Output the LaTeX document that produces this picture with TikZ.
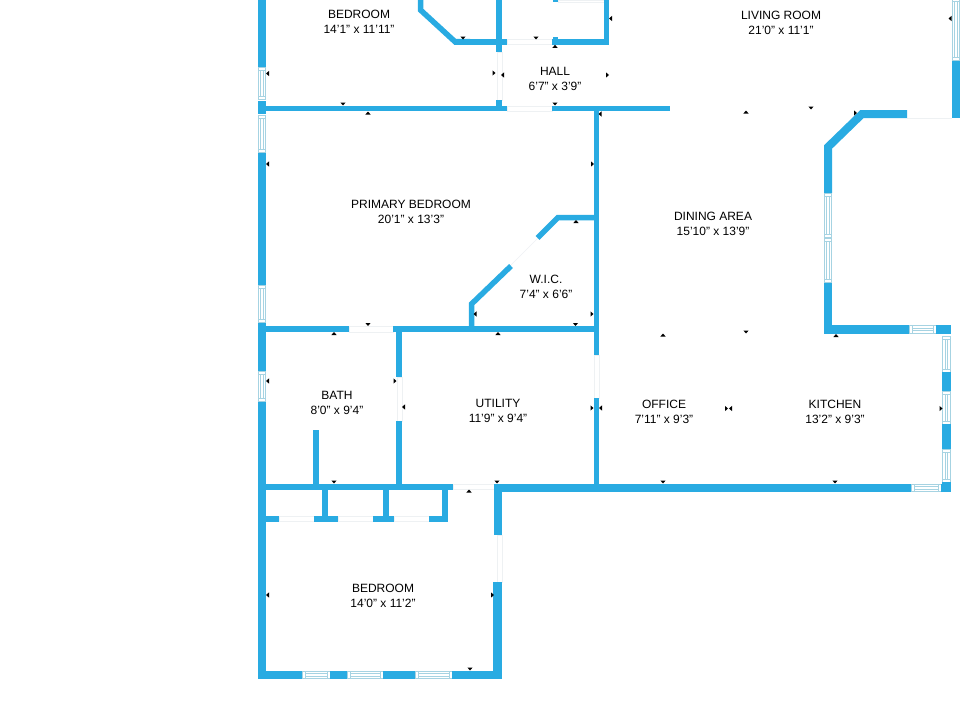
\documentclass[tikz,border=0pt]{standalone}
\usepackage{fontspec}
\setmainfont{Liberation Sans}
\definecolor{wallc}{HTML}{29ABE2}
\definecolor{winc}{HTML}{A6D3E2}
\definecolor{gapc}{HTML}{EEF1F3}
\tikzset{
  wallfill/.style={fill=wallc,draw=none},
  wallline/.style={draw=wallc,line cap=butt,line join=miter},
  gapline/.style={draw=gapc,line width=0.6pt},
  winbox/.style={draw=winc,line width=1pt,fill=white},
  winline/.style={draw=winc,line width=0.9pt},
  roomlabel/.style={align=center,font=\fontsize{12}{15}\selectfont,text=black,inner sep=0pt},
  tick/.style={fill=black,draw=none}
}
% wall rectangle
\newcommand{\wl}[4]{\fill[wallfill] (#1,#2) rectangle (#3,#4);}
% door/opening outline
\newcommand{\gp}[4]{\draw[gapline] (#1,#2) rectangle (#3,#4);}
% vertical window x1 y1 x2 y2
\newcommand{\vw}[4]{%
  \draw[winbox] (#1,#2) rectangle (#3,#4);
  \pgfmathsetmacro{\xa}{(#1+#3)/2-1.1}\pgfmathsetmacro{\xb}{(#1+#3)/2+1.1}%
  \draw[winline] (\xa,#2+3) -- (\xa,#4-3) (\xb,#2+3) -- (\xb,#4-3);
  \draw[winline] (#1,#2+3) -- (#3,#2+3) (#1,#4-3) -- (#3,#4-3);}
% horizontal window
\newcommand{\hw}[4]{%
  \draw[winbox] (#1,#2) rectangle (#3,#4);
  \pgfmathsetmacro{\ya}{(#2+#4)/2-1.1}\pgfmathsetmacro{\yb}{(#2+#4)/2+1.1}%
  \draw[winline] (#1+3,\ya) -- (#3-3,\ya) (#1+3,\yb) -- (#3-3,\yb);
  \draw[winline] (#1+3,#2) -- (#1+3,#4) (#3-3,#2) -- (#3-3,#4);}
% small direction marks
\newcommand{\tkd}[2]{\fill[tick] (#1-2.6,#2-1.5) -- (#1+2.6,#2-1.5) -- (#1,#2+1.5) -- cycle;}
\newcommand{\tku}[2]{\fill[tick] (#1-2.6,#2+1.5) -- (#1+2.6,#2+1.5) -- (#1,#2-1.5) -- cycle;}
\newcommand{\tkl}[2]{\fill[tick] (#1+1.5,#2-2.6) -- (#1+1.5,#2+2.6) -- (#1-1.5,#2) -- cycle;}
\newcommand{\tkr}[2]{\fill[tick] (#1-1.5,#2-2.6) -- (#1-1.5,#2+2.6) -- (#1+1.5,#2) -- cycle;}
\begin{document}
\begin{tikzpicture}[x=1pt,y=-1pt]
\useasboundingbox (0,0) rectangle (960,720);
\fill[white] (0,0) rectangle (960,720);

% faint openings
\gp{507}{39.5}{552}{44}
\gp{507}{106}{552}{111}
\gp{497}{52}{502}{100}
\gp{558}{0.3}{604}{2}
\gp{349}{326}{393}{332}
\gp{397}{377}{402}{421}
\gp{594}{355}{599}{398}
\gp{453}{484}{494}{489}
\gp{497}{535}{502}{582}
\gp{279}{516}{314}{521}
\gp{338}{516}{373}{521}
\gp{394}{516}{429}{521}
\draw[gapline] (907,118) -- (952,118);
\draw[gapline] (511,265) -- (538,238);

% outer left wall
\wl{258}{0}{266}{67}
\wl{258}{101}{266}{114}
\wl{258}{153}{266}{285}
\wl{258}{323}{266}{371}
\wl{258}{402}{266}{679}
\vw{258.5}{67}{265.5}{99}
\vw{258.5}{115}{265.5}{152}
\vw{258.5}{285}{265.5}{322}
\vw{258.5}{371}{265.5}{401}

% top rooms
\wl{266}{105.5}{507}{111}
\wl{552}{105.5}{670}{111}
\wl{496}{0}{502}{52}
\wl{496}{100}{502}{106}
\wl{454}{39}{507}{44.5}
\wl{552}{39}{609}{44.5}
\wl{553}{37}{558}{44}
\wl{553}{0}{558}{2}
\wl{604}{0}{609}{44.5}
\draw[wallline,line width=5.5pt] (420.5,0) -- (420.5,10) -- (455,41.7) -- (470,41.7);

% central vertical
\wl{593.5}{111}{599}{355}
\wl{593.5}{398}{599}{486}

% living / dining bay
\draw[wallline,line width=8pt] (907,114) -- (862,114) -- (828,147) -- (828,193);
\wl{824}{282}{832}{333}
\vw{824.5}{193}{831.5}{237}
\vw{824.5}{238}{831.5}{282}
\wl{952}{60}{960}{118}
\vw{952.5}{-2}{959.5}{60}

% kitchen
\wl{824}{325}{909}{334}
\hw{909}{325.5}{936}{333.5}
\wl{936}{325}{951}{334}
\vw{942.5}{336}{950.5}{372}
\wl{942}{372}{951}{391}
\vw{942.5}{391}{950.5}{424}
\wl{942}{424}{951}{449}
\vw{942.5}{449}{950.5}{482}
\wl{942}{482}{951}{492}
\wl{494}{484}{911}{492}
\hw{911}{484.5}{941}{491.5}
\wl{941}{484}{951}{492}

% primary / WIC
\wl{266}{326}{349}{332}
\wl{393}{326}{599}{332}
\wl{396}{332}{402}{377}
\wl{396}{421}{402}{486}
\draw[wallline,line width=5.5pt] (471.5,330) -- (471.5,304) -- (511,266);
\draw[wallline,line width=5.5pt] (537.5,238) -- (558,217.5) -- (594,217.5);

% bath / closets
\wl{266}{484}{453}{489.5}
\wl{313}{430}{319}{484}
\wl{322}{489}{327.5}{516}
\wl{383}{489}{388.5}{516}
\wl{442}{489}{448}{521}
\wl{266}{516}{279}{521.5}
\wl{314}{516}{338}{521.5}
\wl{373}{516}{394}{521.5}
\wl{429}{516}{448}{521.5}
\wl{494}{484}{502}{535}

% lower bedroom
\wl{493}{582}{502}{679}
\wl{258}{671}{302}{679}
\hw{302}{671.5}{330}{678.5}
\wl{330}{671}{347}{679}
\hw{347}{671.5}{383}{678.5}
\wl{383}{671}{415}{679}
\hw{415}{671.5}{452}{678.5}
\wl{452}{671}{502}{679}

% marks
\tkl{267.5}{73.5} \tkd{343}{104} \tku{368}{113}
\tkd{463}{38} \tkd{536}{38} \tku{555}{46.3}
\tkl{610.5}{18.5} \tkr{494}{73} \tkl{502.5}{75} \tkr{607.5}{75}
\tkd{555}{104} \tkl{600}{114}
\tkd{811}{108} \tku{746}{112} \tkr{855.5}{113} \tkl{950}{18.5}
\tkl{267.5}{164} \tkr{592.5}{164}
\tku{576}{221.5} \tkl{475}{314} \tkr{592}{314} \tkd{575.5}{324.5} \tku{498}{333.5}
\tkd{368}{324.5} \tku{334}{333.5} \tkl{267.5}{381} \tkr{395}{381} \tkl{403.5}{407}
\tkr{592}{408} \tkl{600.5}{408}
\tku{663}{335} \tkd{746}{332} \tku{836}{335.5}
\tkr{726.5}{408.5} \tkl{730.5}{408.5} \tkr{941}{408.5}
\tkd{334}{482} \tku{469}{491} \tkd{497}{482} \tkd{663}{482} \tkd{835}{482}
\tkl{267.5}{595} \tkr{492.5}{595} \tkd{470}{669}

% labels
\node[roomlabel] (r1) at (359,21.5) {BEDROOM\\14'1" x 11'11"};
\node[roomlabel] (r2) at (781,22.5) {LIVING ROOM\\21'0" x 11'1"};
\node[roomlabel] (r3) at (555,78.5) {HALL\\6'7" x 3'9"};
\node[roomlabel] (r4) at (411,211.5) {PRIMARY BEDROOM\\20'1" x 13'3"};
\node[roomlabel] (r5) at (713,224) {DINING AREA\\15'10" x 13'9"};
\node[roomlabel] (r6) at (546,286.5) {W.I.C.\\7'4" x 6'6"};
\node[roomlabel] (r7) at (337,403) {BATH\\8'0" x 9'4"};
\node[roomlabel] (r8) at (498,411) {UTILITY\\11'9" x 9'4"};
\node[roomlabel] (r9) at (664,412) {OFFICE\\7'11" x 9'3"};
\node[roomlabel] (r10) at (835,412) {KITCHEN\\13'2" x 9'3"};
\node[roomlabel] (r11) at (383,595.5) {BEDROOM\\14'0" x 11'2"};
\end{tikzpicture}
\end{document}
